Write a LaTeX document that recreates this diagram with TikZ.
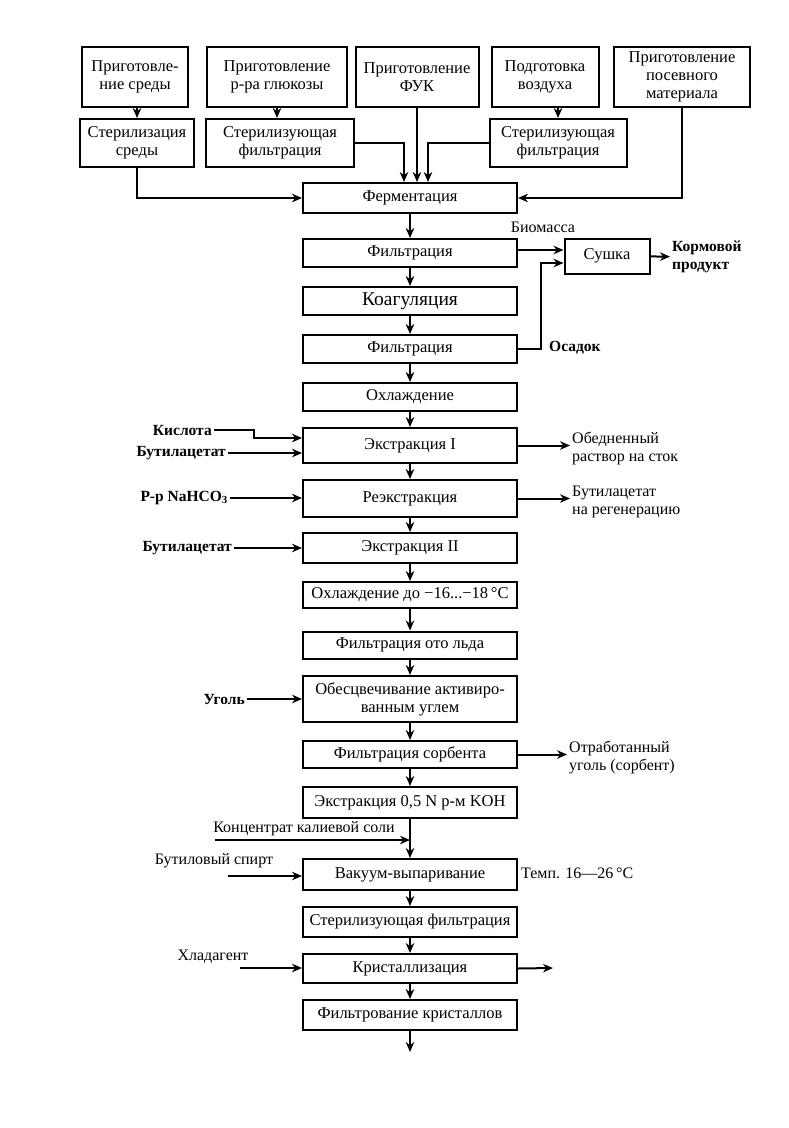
\documentclass[tikz,border=0pt]{standalone}
\usepackage{fontspec}
\setmainfont{Liberation Serif}
\usetikzlibrary{arrows.meta}

\begin{document}
\begin{tikzpicture}[x=1pt, y=-1pt,
    box/.style={draw, line width=2pt, align=center, inner sep=1pt, font=\fontsize{16.5}{18}\selectfont},
    proc/.style={box, minimum width=214pt},
    txt/.style={align=left, inner sep=2pt, font=\fontsize{16}{18}\selectfont},
    btxt/.style={txt, font=\fontsize{15.5}{18}\selectfont\bfseries},
    flow/.style={line width=2pt, -{Stealth[length=10pt,width=8.5pt]}}]

\useasboundingbox (0,0) rectangle (788,1128);

% Preparation
\node[box, minimum width=106pt, minimum height=60pt] (prepMed) at (135,77) {Приготовле-\\ние среды};
\node[box, minimum width=140pt, minimum height=60pt] (prepGlu) at (277,77) {Приготовление\\р-ра глюкозы};
\node[box, minimum width=123pt, minimum height=60pt] (prepFuk) at (417,77) {Приготовление\\ФУК};
\node[box, minimum width=107pt, minimum height=60pt] (prepAir) at (545,77) {Подготовка\\воздуха};
\node[box, minimum width=136pt, minimum height=60pt] (prepSeed) at (682,77) {Приготовление\\посевного\\материала};

% Sterilization
\node[box, minimum width=114pt, minimum height=48pt] (sterMed) at (137,143) {Стерилизация\\среды};
\node[box, minimum width=148pt, minimum height=48pt] (sterGlu) at (280,143) {Стерилизующая\\фильтрация};
\node[box, minimum width=137pt, minimum height=48pt] (sterAir) at (558,143) {Стерилизующая\\фильтрация};

% Main line
\node[proc, minimum height=30pt] (ferm) at (410,198) {Ферментация};
\node[proc, minimum height=28pt] (filtA) at (410,253) {Фильтрация};
\node[proc, minimum height=28pt, font=\fontsize{19.5}{21}\selectfont] (coag) at (410,301) {Коагуляция};
\node[proc, minimum height=28pt] (filtB) at (410,349) {Фильтрация};
\node[proc, minimum height=28pt] (cool) at (410,397) {Охлаждение};
\node[proc, minimum height=35pt] (extrA) at (410,445.5) {Экстракция I};
\node[proc, minimum height=37pt] (reext) at (410,498.5) {Реэкстракция};
\node[proc, minimum height=30pt] (extrB) at (410,548) {Экстракция II};
\node[proc, minimum height=26pt] (coolIce) at (410,595) {Охлаждение до −16...−18\,°C};
\node[proc, minimum height=27pt] (filtIce) at (410,645) {Фильтрация ото льда};
\node[proc, minimum height=46pt] (decol) at (410,699) {Обесцвечивание активиро-\\ванным углем};
\node[proc, minimum height=27pt] (filtSorb) at (410,754.5) {Фильтрация сорбента};
\node[proc, minimum height=31pt] (extrKOH) at (410,802.5) {Экстракция 0,5 N р-м KOH};
\node[proc, minimum height=31pt] (vac) at (410,874.5) {Вакуум-выпаривание};
\node[proc, minimum height=30pt] (sterF) at (410,922) {Стерилизующая фильтрация};
\node[proc, minimum height=29pt] (cryst) at (410,968.5) {Кристаллизация};
\node[proc, minimum height=30pt] (filtCr) at (410,1015) {Фильтрование кристаллов};

% Drying
\node[box, minimum width=85pt, minimum height=35pt] (dry) at (607,256) {Сушка};
\node[txt] (biomass) at (543,227) {Биомасса};
\node[btxt, anchor=west] (feed) at (670,257) {Кормовой\\продукт};
\node[btxt, anchor=west] (osadok) at (547,348) {Осадок};

% Inputs
\node[btxt, anchor=east] (acid) at (214,430) {Кислота};
\node[btxt, anchor=east] (butA) at (228,453) {Бутилацетат};
\node[btxt, anchor=east] (soda) at (230,498) {Р-р NaHCO\textsubscript{3}};
\node[btxt, anchor=east] (butB) at (234,548) {Бутилацетат};
\node[btxt, anchor=east] (coal) at (247,699) {Уголь};
\node[txt] (conc) at (304,829) {Концентрат калиевой соли};
\node[txt] (butanol) at (214,861) {Бутиловый спирт};
\node[txt] (coolant) at (213,957) {Хладагент};

% Outputs
\node[txt, anchor=west] (waste) at (570,448) {Обедненный\\раствор на сток};
\node[txt, anchor=west] (regen) at (570,502) {Бутилацетат\\на регенерацию};
\node[txt, anchor=west] (spent) at (567,757) {Отработанный\\уголь (сорбент)};
\node[txt, anchor=west] (temp) at (519,873) {Темп. 16—26\,°C};

\coordinate (concIn) at (215,840);
\coordinate (butIn) at (228,876);
\coordinate (coolIn) at (240,968);
\coordinate (crystOut) at (553,968);
\coordinate (prodOut) at (410,1052);

%==============================================================================================

% Into fermentation
\draw[flow] (sterMed.north |- prepMed.south) -- (sterMed.north);
\draw[flow] (prepGlu.south) -- (prepGlu.south |- sterGlu.north);
\draw[flow] (sterAir.north |- prepAir.south) -- (sterAir.north);
\draw[flow] (sterMed.south) |- (ferm.west);
\draw[flow] (sterGlu.east) -| ([xshift=-6pt]ferm.north);
\draw[flow] (prepFuk.south) -- (prepFuk.south |- ferm.north);
\draw[flow] (sterAir.west) -| ([xshift=18pt]ferm.north);
\draw[flow] (prepSeed.south) |- (ferm.east);

% Main flow
\foreach \a/\b in {ferm/filtA, filtA/coag, coag/filtB, filtB/cool, cool/extrA, extrA/reext,
    reext/extrB, extrB/coolIce, coolIce/filtIce, filtIce/decol, decol/filtSorb,
    filtSorb/extrKOH, extrKOH/vac, vac/sterF, sterF/cryst, cryst/filtCr}
  \draw[flow] (\a) -- (\b);
\draw[flow] (filtCr) -- (prodOut);

% Biomass and sediment
\draw[flow] ([yshift=3pt]filtA.east) -- ([yshift=3pt]filtA.east -| dry.west);
\draw[flow] (filtB.east) -- ++(23,0) |- ([yshift=-7pt]dry.west);
\draw[flow] (dry) -- (feed);

% Side streams
\draw[flow] (acid.east) -- ++(40,0) |- ([yshift=7.5pt]extrA.west);
\draw[flow] (butA.east) -- (butA.east -| extrA.west);
\draw[flow] (extrA.east) -- (extrA.east -| waste.west);
\draw[flow] (soda.east) -- (soda.east -| reext.west);
\draw[flow] (reext.east) -- (reext.east -| regen.west);
\draw[flow] (butB.east) -- (butB.east -| extrB.west);
\draw[flow] (coal.east) -- (coal.east -| decol.west);
\draw[flow] (filtSorb.east) -- (filtSorb.east -| spent.west);
\draw[flow] (concIn) -- (concIn -| extrKOH.south);
\draw[flow] (butIn) -- (butIn -| vac.west);
\draw[flow] (coolIn) -- (coolIn -| cryst.west);
\draw[flow] (cryst.east) -- (crystOut);

\end{tikzpicture}
\end{document}
